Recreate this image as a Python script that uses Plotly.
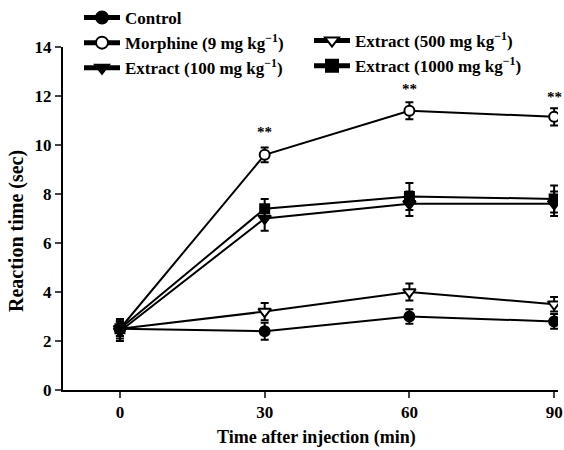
import plotly.graph_objects as go

time_min = [0, 30, 60, 90]
control = [2.5, 2.4, 3.0, 2.8]
control_err = [0.3, 0.35, 0.3, 0.3]
morphine = [2.5, 9.6, 11.4, 11.15]
morphine_err = [0.3, 0.3, 0.35, 0.35]
extract100 = [2.4, 7.0, 7.6, 7.6]
extract100_err = [0.4, 0.5, 0.5, 0.5]
extract500 = [2.5, 3.2, 4.0, 3.5]
extract500_err = [0.3, 0.35, 0.35, 0.3]
extract1000 = [2.5, 7.4, 7.9, 7.8]
extract1000_err = [0.4, 0.4, 0.55, 0.55]
sig_x = [30, 60, 90]
sig_y = [10.55, 12.3, 11.95]
sig_text = ["**", "**", "**"]

FONT = "Liberation Serif"
fig = go.Figure()

def add(name, y, err, symbol, fill, legend, size=10):
    fig.add_trace(go.Scatter(
        x=time_min, y=y, name=name, mode="lines+markers",
        line=dict(color="black", width=2),
        marker=dict(symbol=symbol, size=size, color=fill, line=dict(color="black", width=2)),
        error_y=dict(type="data", array=err, color="black", thickness=2, width=4, visible=True),
        legend=legend,
    ))

add("<b>Control</b>", control, control_err, "circle", "black", "legend")
add("<b>Morphine (9 mg kg<sup>\u22121</sup>)</b>", morphine, morphine_err, "circle", "white", "legend")
add("<b>Extract (100 mg kg<sup>\u22121</sup>)</b>", extract100, extract100_err, "triangle-down", "black", "legend", 11)
add("<b>Extract (500 mg kg<sup>\u22121</sup>)</b>", extract500, extract500_err, "triangle-down", "white", "legend2", 11)
add("<b>Extract (1000 mg kg<sup>\u22121</sup>)</b>", extract1000, extract1000_err, "square", "black", "legend2", 9)

for xv, yv, t in zip(sig_x, sig_y, sig_text):
    fig.add_annotation(x=xv, y=yv, text="<b>" + t + "</b>", showarrow=False,
                       font=dict(family=FONT, size=15, color="black"))

fig.add_annotation(text="<b>Time after injection (min)</b>", xref="paper", yref="paper",
                   x=(316 - 63) / 495, y=-(437 - 390) / 343, showarrow=False,
                   xanchor="center", yanchor="middle",
                   font=dict(family=FONT, size=18, color="black"))
fig.add_annotation(text="<b>Reaction time (sec)</b>", xref="paper", yref="paper",
                   x=-(63 - 16) / 495, y=(390 - 231) / 343, showarrow=False, textangle=-90,
                   xanchor="center", yanchor="middle",
                   font=dict(family=FONT, size=20, color="black"))

legend_common = dict(font=dict(family=FONT, size=17, color="black"), bgcolor="rgba(0,0,0,0)",
                     tracegroupgap=0, itemsizing="constant", orientation="v", itemwidth=36,
                     xref="container", yref="container", xanchor="left", yanchor="top")

fig.update_layout(
    width=564, height=450,
    margin=dict(l=63, r=6, t=47, b=60, autoexpand=False),
    paper_bgcolor="white", plot_bgcolor="white",
    font=dict(family=FONT, size=17, color="black"),
    legend=dict(x=79/564, y=1 + 2/450, **legend_common),
    legend2=dict(x=309/564, y=1 - 23/450, **legend_common),
    xaxis=dict(range=[-11.8, 90.8], tickvals=time_min, ticktext=["<b>%d</b>" % v for v in time_min],
               ticks="outside", ticklen=6, tickwidth=2,
               showline=True, linewidth=2, linecolor="black", showgrid=False, zeroline=False,
               tickfont=dict(family=FONT, size=17), automargin=False),
    yaxis=dict(range=[0, 14], tickvals=list(range(0, 15, 2)),
               ticktext=["<b>%d</b>" % v for v in range(0, 15, 2)],
               ticks="outside", ticklen=6, tickwidth=2,
               showline=True, linewidth=2, linecolor="black", showgrid=False, zeroline=False,
               tickfont=dict(family=FONT, size=17), automargin=False),
)

fig.write_html("out.html", post_script="document.body.style.margin='0px';",
               config={"displayModeBar": False})
